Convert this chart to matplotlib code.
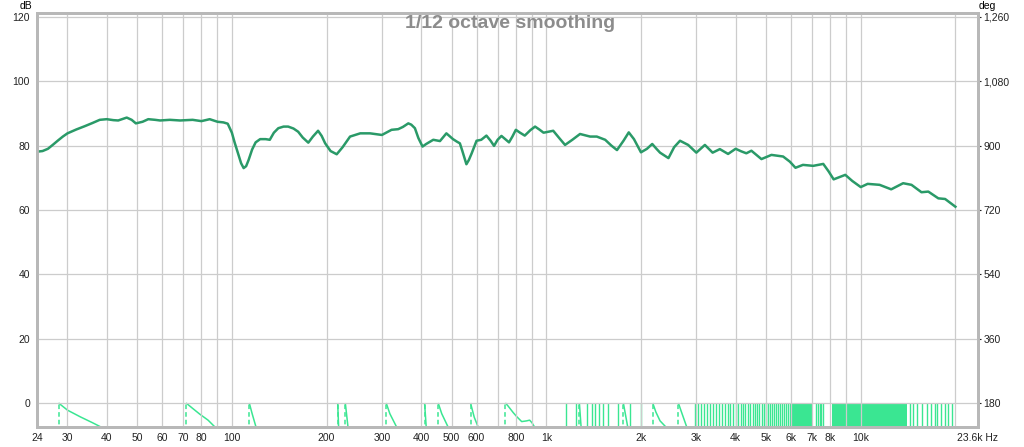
import numpy as np
import matplotlib.pyplot as plt

plt.rcParams['font.family'] = ['Liberation Sans', 'DejaVu Sans']

# SPL, 1/12 octave smoothed (Hz, dB)
freq = [24, 25, 26, 27, 28, 29, 30, 32, 34, 36, 38, 40, 42, 43.5, 45, 46.3,
        48, 49.5, 52, 54.2, 57, 59.1, 63.5, 68.4, 75, 80, 85, 90, 94, 97, 100,
        102, 105, 107, 109, 111, 113, 116, 119, 123, 128, 132, 136, 140.5, 146,
        151, 157, 162.5, 168, 175, 181, 188, 193, 198, 206, 215.5, 225, 237.6,
        256, 275, 300, 322, 338, 350, 364, 372, 382, 392, 404, 415, 437, 459,
        481, 505, 520, 531, 540, 557, 567, 579, 600, 621, 645, 665, 682, 700,
        720, 740, 761, 780, 800, 825, 854, 890, 921, 950, 980, 1052, 1100,
        1147, 1210, 1280, 1378, 1447, 1539, 1610, 1678, 1760, 1829, 1900, 2000,
        2090, 2172, 2240, 2300, 2446, 2550, 2662, 2826, 3000, 3194, 3380, 3564,
        3785, 4000, 4170, 4327, 4490, 4832, 5200, 5664, 5950, 6200, 6550, 7060,
        7600, 7900, 8200, 8930, 9400, 10000, 10520, 11480, 12500, 13640, 14500,
        15600, 16400, 17650, 18550, 20000]
spl = [78.1, 78.3, 79.0, 80.3, 81.6, 82.8, 83.8, 85.0, 86.0, 87.0, 88.0, 88.2,
       87.9, 87.8, 88.3, 88.7, 88.0, 86.9, 87.4, 88.2, 88.0, 87.8, 88.0, 87.8,
       88.0, 87.6, 88.2, 87.4, 87.2, 86.8, 84.0, 81.0, 77.0, 74.5, 73.0, 73.6,
       75.5, 78.8, 81.0, 82.0, 82.0, 81.8, 84.0, 85.4, 85.9, 85.9, 85.3, 84.3,
       82.5, 80.9, 82.8, 84.6, 83.0, 80.7, 78.3, 77.3, 79.5, 82.8, 83.8, 83.8,
       83.3, 84.9, 85.1, 85.8, 86.9, 86.5, 85.4, 82.3, 79.7, 80.5, 81.8, 81.4,
       83.8, 82.0, 81.2, 80.7, 78.5, 74.2, 75.5, 77.6, 81.5, 81.8, 83.1, 81.5,
       79.9, 81.8, 83.0, 82.0, 81.0, 82.8, 84.9, 84.0, 83.1, 84.8, 85.9, 85.0,
       84.0, 84.6, 82.3, 80.2, 81.8, 83.6, 82.8, 82.8, 81.8, 80.0, 78.6, 81.5,
       84.1, 82.0, 77.9, 79.0, 80.5, 79.0, 77.8, 76.1, 79.5, 81.5, 80.2, 77.8,
       80.2, 77.8, 78.9, 77.4, 79.0, 78.2, 77.6, 78.4, 75.8, 77.1, 76.6, 75.0,
       73.1, 74.0, 73.7, 74.3, 72.0, 69.5, 70.9, 69.0, 67.1, 68.1, 67.8, 66.4,
       68.3, 67.8, 65.5, 65.7, 63.6, 63.4, 61.0]

# phase (deg), only the 113..180 part is inside the window
phase_curves = [
    ([28.1, 30, 33, 36, 38.3], [180, 160, 141, 125, 113]),
    ([71.5, 75, 79, 84, 88.3], [180, 165, 149, 132, 113]),
    ([113.6, 116, 119.3], [180, 150, 113]),
    ([217, 218.5], [180, 113]),
    ([229.5, 234], [180, 113]),
    ([309.6, 318, 334], [180, 150, 113]),
    ([410, 415], [180, 113]),
    ([453, 465, 487], [180, 150, 113]),
    ([574, 590, 607], [180, 140, 113]),
    ([741, 755, 766, 785, 805, 835, 866, 885, 900, 917],
     [180, 172, 165, 153, 142, 128, 130, 132, 125, 113]),
    ([1274, 1290], [180, 113]),
    ([1758, 1815], [180, 113]),
    ([2180, 2230, 2300, 2400], [180, 155, 130, 113]),
    ([2630, 2690, 2740, 2796], [180, 155, 135, 113]),
]
phase_steps = [1156, 1243, 1344, 1395, 1430, 1472, 1519, 1575, 1695, 1847,
               2001, 2960, 3030, 3100, 3170, 3250, 3320, 3400, 3470, 3550,
               3620, 3700, 3770, 3850, 3920, 4000, 4080, 4150, 4230, 4300,
               4380, 4460, 4530, 4610, 4690, 4760, 4840, 4920, 5000, 5080,
               5150, 5230, 5310, 5390, 5460, 5540, 5620, 5700, 5780, 5860,
               5940, 7190, 7290, 7410, 7480, 7560, 14350, 14700, 15140, 15640,
               16220, 16700, 17240, 17530, 17970, 18550, 19000, 19490]
phase_bands = [(6000, 7060), (8090, 14000)]

grid_freqs = [24, 30, 40, 50, 60, 70, 80, 90, 100, 200, 300, 400, 500, 600, 700,
              800, 900, 1000, 2000, 3000, 4000, 5000, 6000, 7000, 8000, 9000,
              10000, 20000, 23600]
grid_labels = ['24', '30', '40', '50', '60', '70', '80', '', '100', '200', '300',
               '400', '500', '600', '', '800', '', '1k', '2k', '3k', '4k', '5k',
               '6k', '7k', '8k', '', '10k', '', '23.6k Hz']
db_ticks = [0, 20, 40, 60, 80, 100, 120]
deg_ticks = [180, 360, 540, 720, 900, 1080, 1260]

spl_col = '#2a9a68'
ph_col = '#3ae692'
grid_col = '#cccccc'

fig = plt.figure(figsize=(10.24, 4.47), dpi=100)
ax = fig.add_axes([37 / 1024, 1 - 427 / 447, 941 / 1024, 414 / 447])
ax.set_xscale('log')
ax.set_xlim(24, 23600)
ax.set_ylim(-7.46, 121.2)
ax.set_xticks(grid_freqs)
ax.set_xticklabels(grid_labels)
ax.xaxis.set_minor_locator(plt.NullLocator())
ax.set_yticks(db_ticks)
ax.grid(True, color=grid_col, linewidth=0.9)
ax.tick_params(axis='both', length=0, labelsize=7.5, colors='#222222')
ax.tick_params(axis='x', pad=4)
ax.tick_params(axis='y', pad=5)
for s in ax.spines.values():
    s.set_color('#b8b8b8')
    s.set_linewidth(2)

ax2 = ax.twinx()
ax2.set_ylim(180 + 9 * -7.46, 180 + 9 * 121.2)
ax2.set_yticks(deg_ticks)
ax2.set_yticklabels(['{:,}'.format(d) for d in deg_ticks])
ax2.tick_params(axis='y', length=2, labelsize=7.5, colors='#222222', pad=2)
for s in ax2.spines.values():
    s.set_color('#b8b8b8')
    s.set_linewidth(2)

lo = 100
for fs, ds in phase_curves:
    ax2.plot(fs, ds, color=ph_col, lw=1.1, solid_capstyle='butt')
    ax2.plot([fs[0], fs[0]], [lo, 180], color=ph_col, lw=1.1, ls=(0, (3, 2)))
ax2.vlines(phase_steps, lo, 180, color=ph_col, lw=1.0)
for a, b in phase_bands:
    ax2.fill_between([a, b], lo, 180, color=ph_col, lw=0)

ax.plot(freq, spl, color=spl_col, lw=1.8, solid_joinstyle='round')
ax.set_zorder(ax2.get_zorder() + 1)
ax.patch.set_visible(False)

fig.text(510 / 1024, 1 - 23 / 447, '1/12 octave smoothing', ha='center',
         va='center', fontsize=14, fontweight='bold', color='#8c8c8c')
fig.text(26 / 1024, 1 - 6 / 447, 'dB', ha='center', va='center', fontsize=7.5)
fig.text(979 / 1024, 1 - 6 / 447, 'deg', ha='left', va='center', fontsize=7.5)

fig.savefig('out.png', dpi=100)
